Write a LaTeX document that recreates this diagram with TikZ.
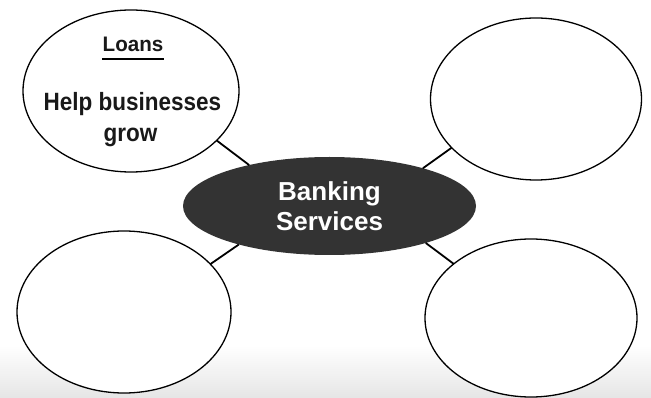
\documentclass[tikz,border=0pt]{standalone}
\usepackage{fontspec}
\setmainfont{Liberation Sans}
\newfontfamily\condsans[FakeStretch=0.9]{Liberation Sans}
\newfontfamily\headsans[FakeStretch=0.98]{Liberation Sans}
\usetikzlibrary{shapes.geometric}
\begin{document}
\begin{tikzpicture}[x=1pt,y=-1pt,
  bubble/.style={draw=black, line width=1.3pt, ellipse, fill=white,
    inner sep=0pt, outer sep=0pt},
  hub/.style={ellipse, fill=black!80, inner sep=0pt, outer sep=0pt,
    minimum width=293pt, minimum height=98pt, text=white, align=center,
    font=\bfseries\fontsize{26}{30}\selectfont},
  link/.style={draw=black, line width=1.8pt},
  txt/.style={anchor=base, inner sep=0pt, text=black!90}]
  % page
  \useasboundingbox (0,0) rectangle (651,398);
  \fill[white] (0,0) rectangle (651,398);
  \shade[top color=white, bottom color=black!10] (0,345) rectangle (651,398);

  % central idea
  \node[hub] (hub) at (329.5,206) {Banking\\Services};

  % outer bubbles
  \node[bubble, minimum width=216pt, minimum height=162pt] (loans) at (131,91) {};
  \node[bubble, minimum width=211pt, minimum height=162pt] (tr) at (536,99) {};
  \node[bubble, minimum width=214pt, minimum height=162pt] (bl) at (124,312) {};
  \node[bubble, minimum width=212pt, minimum height=158pt] (br) at (531,318) {};

  % spokes
  \draw[link] (loans.-30.7) -- (hub.153);
  \draw[link] (tr.210.8) -- (hub.22);
  \draw[link] (bl.29.1) -- (hub.203.3);
  \draw[link] (br.145.8) -- (hub.-21.6);

  % filled-in bubble
  \node[txt, font=\headsans\bfseries\fontsize{21}{25}\selectfont] (loanshead) at (133,52) {Loans};
  \draw[line width=1.5pt] ([yshift=-7pt]loanshead.base west) -- ([yshift=-7pt]loanshead.base east);
  \node[txt, font=\condsans\bfseries\fontsize{25}{30}\selectfont] (loansl1) at (132.5,111) {Help businesses};
  \node[txt, font=\condsans\bfseries\fontsize{25}{30}\selectfont] (loansl2) at (130.5,142) {grow};
\end{tikzpicture}
\end{document}
